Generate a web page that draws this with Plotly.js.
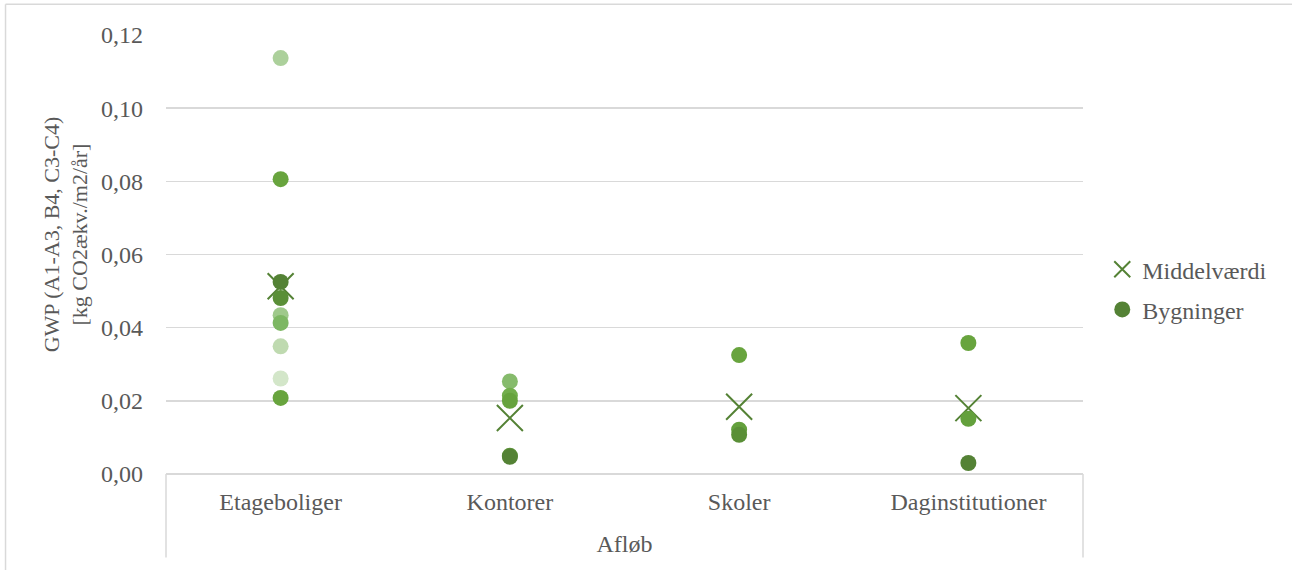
<!DOCTYPE html>
<html>
<head>
<meta charset="utf-8">
<script src="https://cdn.plot.ly/plotly-3.0.1.min.js"></script>
<style>
  html, body { margin: 0; padding: 0; background: #ffffff; }
  #chart { width: 1292px; height: 570px; }
</style>
</head>
<body>
<div id="chart"></div>
<script>
// Building types on the category axis
const categories = ['Etageboliger', 'Kontorer', 'Skoler', 'Daginstitutioner'];

// Individual buildings: category, GWP value and fill shade
const buildingCategory = [
  'Etageboliger', 'Etageboliger', 'Etageboliger', 'Etageboliger', 'Etageboliger',
  'Etageboliger', 'Etageboliger', 'Etageboliger', 'Etageboliger',
  'Kontorer', 'Kontorer', 'Kontorer', 'Kontorer', 'Kontorer',
  'Skoler', 'Skoler', 'Skoler',
  'Daginstitutioner', 'Daginstitutioner', 'Daginstitutioner'
];
const buildingValue = [
  0.0525, 0.1137, 0.0806, 0.0481, 0.0434, 0.0413, 0.0349, 0.0261, 0.0208,
  0.0253, 0.0214, 0.0200, 0.0050, 0.0047,
  0.0325, 0.0121, 0.0107,
  0.0358, 0.0151, 0.0030
];
const buildingShade = [
  '#548235', '#acd09b', '#68a43e', '#5a8f37', '#9fc98b', '#7db763', '#bfdab0', '#d3e6c9', '#68a43e',
  '#86bb6c', '#72ae4c', '#66a33d', '#5c9238', '#548235',
  '#68a43e', '#63a03c', '#5a8f37',
  '#68a43e', '#63a03c', '#548235'
];

// Mean value per building type
const meanValue = [0.0513, 0.0153, 0.0184, 0.0180];

const valueTitle = 'GWP (A1-A3, B4, C3-C4)<br>[kg CO2ækv./m2/år]';

const textColor = '#595959';
const fontFamily = '"Liberation Serif", "Times New Roman", serif';
const labelSize = 24;

const traces = [
  {
    type: 'scatter',
    mode: 'markers',
    name: 'Middelværdi',
    legendgroup: 'mean',
    x: categories,
    y: meanValue,
    marker: {
      symbol: 'x-thin-open',
      size: 26,
      color: '#548235',
      line: { color: '#548235', width: 2 }
    },
    hoverinfo: 'x+y'
  },
  {
    type: 'scatter',
    mode: 'markers',
    name: 'Bygninger',
    legendgroup: 'buildings',
    x: buildingCategory,
    y: buildingValue,
    marker: {
      symbol: 'circle',
      size: 16,
      color: buildingShade,
      line: { width: 0 }
    },
    hoverinfo: 'x+y'
  }
];

const layout = {
  width: 1292,
  height: 570,
  separators: ',.',
  paper_bgcolor: '#ffffff',
  plot_bgcolor: '#ffffff',
  margin: { l: 166, r: 209, t: 35, b: 96, pad: 0 },
  font: { family: fontFamily, size: labelSize, color: textColor },
  showlegend: true,
  legend: {
    x: 1.021,
    y: 0.42,
    xanchor: 'left',
    yanchor: 'middle',
    font: { family: fontFamily, size: labelSize, color: textColor },
    itemwidth: 30,
    tracegroupgap: 6,
    bgcolor: 'rgba(0,0,0,0)'
  },
  xaxis: {
    type: 'category',
    categoryorder: 'array',
    categoryarray: categories,
    range: [-0.5, 3.5],
    showgrid: false,
    zeroline: false,
    showline: false,
    ticks: '',
    ticklen: 0,
    ticklabelstandoff: 11,
    tickfont: { family: fontFamily, size: labelSize, color: textColor },
    title: {
      text: 'Afløb',
      font: { family: fontFamily, size: labelSize, color: textColor },
      standoff: 21
    }
  },
  yaxis: {
    range: [0, 0.12],
    dtick: 0.02,
    tickformat: '.2f',
    showgrid: true,
    gridcolor: '#d9d9d9',
    gridwidth: 1.5,
    zeroline: true,
    zerolinecolor: '#d9d9d9',
    zerolinewidth: 1.5,
    showline: false,
    ticks: '',
    ticklabelstandoff: 22,
    tickfont: { family: fontFamily, size: labelSize, color: textColor }
  },
  annotations: [
    // value-axis title, centred a little above the plot middle
    {
      xref: 'paper', yref: 'paper',
      x: -0.109, y: 0.546,
      xanchor: 'center', yanchor: 'middle',
      textangle: -90,
      showarrow: false,
      text: valueTitle,
      font: { family: fontFamily, size: 22, color: textColor }
    }
  ],
  shapes: [
    // outer chart frame
    { type: 'line', xref: 'paper', yref: 'paper', x0: -0.175, x1: -0.175, y0: 1.07, y1: -0.23,
      line: { color: '#d9d9d9', width: 1.5 } },
    { type: 'line', xref: 'paper', yref: 'paper', x0: -0.175, x1: 1.2295, y0: 1.07, y1: 1.07,
      line: { color: '#d9d9d9', width: 1.5 } },
    { type: 'line', xref: 'paper', yref: 'paper', x0: 1.2295, x1: 1.2295, y0: 1.07, y1: -0.23,
      line: { color: '#d9d9d9', width: 1.5 } },
    // category box below the plot
    { type: 'line', xref: 'paper', yref: 'paper', x0: 0, x1: 0, y0: 0, y1: -0.19,
      line: { color: '#d9d9d9', width: 1.5 } },
    { type: 'line', xref: 'paper', yref: 'paper', x0: 1, x1: 1, y0: 0, y1: -0.19,
      line: { color: '#d9d9d9', width: 1.5 } }
  ]
};

Plotly.newPlot('chart', traces, layout, { displayModeBar: false, staticPlot: true });
</script>
</body>
</html>
